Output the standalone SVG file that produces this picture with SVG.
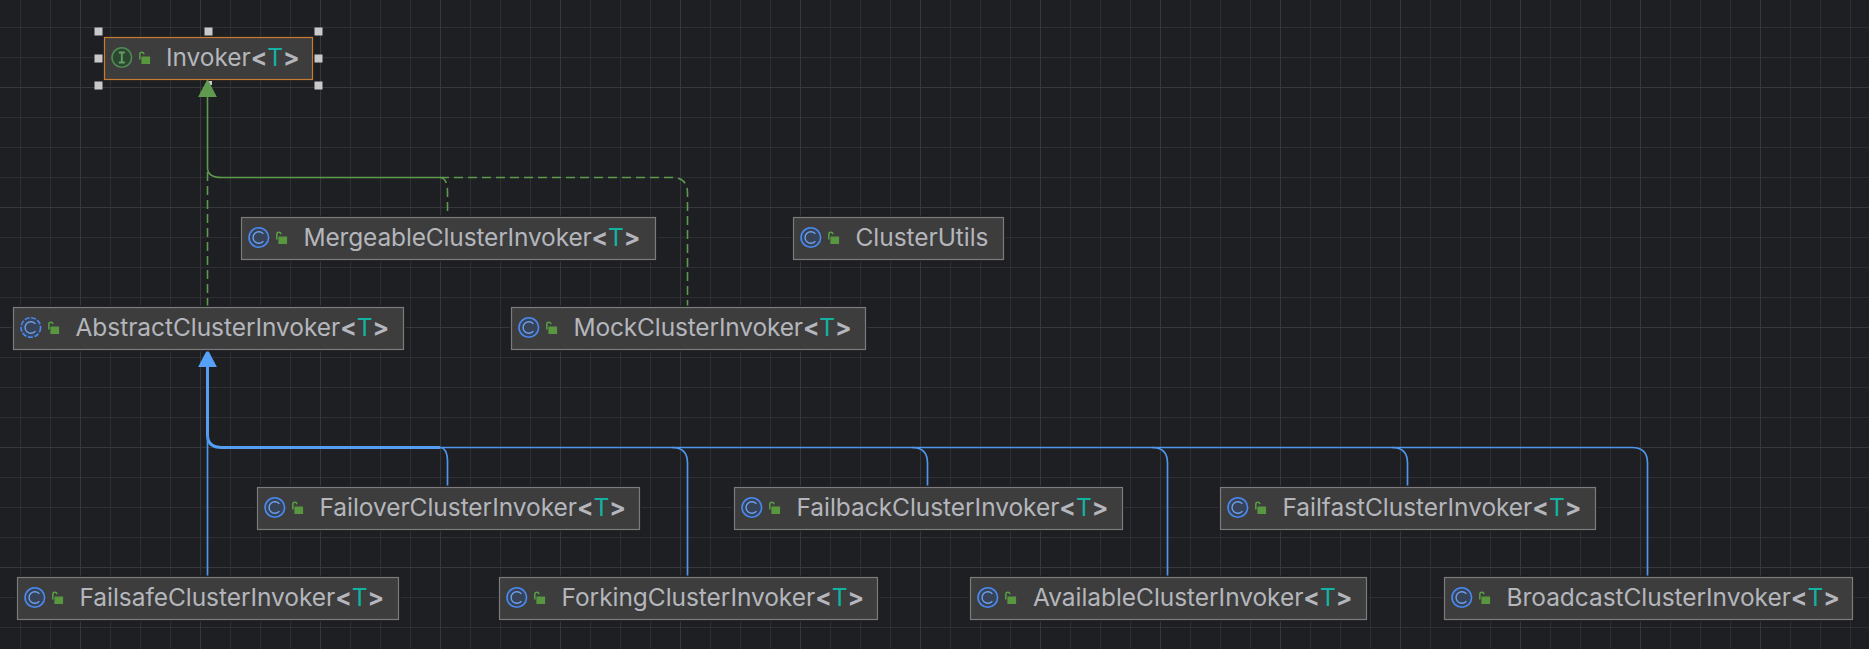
<svg xmlns="http://www.w3.org/2000/svg" width="1869" height="649" viewBox="0 0 1869 649">
<style>
.bg{fill:#1e1f22}
.gm{fill:none;stroke:#2e2f32;stroke-width:1}
.gM{fill:none;stroke:#37383b;stroke-width:1}
.box{fill:#3d3d3d;stroke:#7b7b7b;stroke-width:1.2}
.sel{fill:#3d3d3d;stroke:#c77b30;stroke-width:1.2}
.shadow{fill:#1e1f22}
.h{fill:#c9c9c9}
.lb{font-family:"Inter","Noto Sans",sans-serif;font-size:24.5px;fill:#b4b6bc;letter-spacing:-0.05px}
.m{letter-spacing:-0.16px}
.br{font-weight:700}
.t{fill:#12b3a3}
.ge{fill:none;stroke:#5c9a4c;stroke-width:1.6}
.gd{stroke-dasharray:9 5}
.be{fill:none;stroke:#4f95ea;stroke-width:1.7}
.bt{fill:none;stroke:#549ef5;stroke-width:3}
.ah{fill:#5f9a4f}
.ab{fill:#57a0f7}
</style>
<defs>
<pattern id="gridMinor" width="30" height="30" patternUnits="userSpaceOnUse" x="20" y="27"><path class="gm" d="M0.5 0V30M0 0.5H30"/></pattern>
<pattern id="gridMajor" width="120" height="120" patternUnits="userSpaceOnUse" x="80" y="87"><path class="gM" d="M0.5 0V120M0 0.5H120"/></pattern>
<g id="lock"><path d="M1 2V-3Q1 -5.2 3 -5.2Q5 -5.2 5 -3.2" fill="none" stroke="#58a044" stroke-width="1.5"/><rect x="2.6" y="-1" width="8.7" height="7.5" fill="#58963f"/></g>
<g id="ci"><circle r="9.8" fill="#374358" stroke="#4a8af0" stroke-width="1.6"/><path d="M4.6 -3.6A5.8 5.8 0 1 0 4.6 3.6" fill="none" stroke="#6ea0ea" stroke-width="1.4"/><use href="#lock" x="17" y="0"/></g>
<g id="cia"><circle r="9.8" fill="#374358" stroke="#4a8af0" stroke-width="1.6" stroke-dasharray="5 1.6"/><path d="M4.6 -3.6A5.8 5.8 0 1 0 4.6 3.6" fill="none" stroke="#6ea0ea" stroke-width="1.4"/><use href="#lock" x="17" y="0"/></g>
<g id="ii"><circle r="9.8" fill="#2d4630" stroke="#4f8a55" stroke-width="1.6"/><path d="M-3 -5H3M-3 5H3M0 -5V5" fill="none" stroke="#62a068" stroke-width="1.8"/><use href="#lock" x="17" y="0"/></g>
</defs>
<rect class="bg" width="1869" height="649"/>
<rect width="1869" height="649" fill="url(#gridMinor)"/>
<rect width="1869" height="649" fill="url(#gridMajor)"/>

<g id="selection-handles">
<rect class="h" x="94.5" y="27.5" width="8" height="8"/><rect class="h" x="204.5" y="27.5" width="8" height="8"/><rect class="h" x="314.5" y="27.5" width="8" height="8"/>
<rect class="h" x="94.5" y="54.5" width="8" height="8"/><rect class="h" x="314.5" y="54.5" width="8" height="8"/>
<rect class="h" x="94.5" y="81.5" width="8" height="8"/><rect class="h" x="208" y="81" width="4" height="4"/><rect class="h" x="314.5" y="81.5" width="8" height="8"/>
</g>

<g id="connectors">
<path class="ge" d="M207.5 96V168Q207.5 177.5 222 177.5H440"/>
<path class="ge gd" d="M207.5 307V170"/>
<path class="ge gd" d="M440 177.5Q447.5 178 447.5 192V217"/>
<path class="ge gd" d="M440 177.5H672Q687.5 177.5 687.5 193V307"/>
<path class="ah" d="M207.5 79L216.9 97H198.1Z"/>
<path class="bt" d="M207.5 365V435Q207.5 447.5 222 447.5H440"/>
<path class="be" d="M207.5 577V435"/>
<path class="be" d="M440 447.5Q447.5 448 447.5 462V487"/>
<path class="be" d="M440 447.5H672Q687.5 447.5 687.5 463V577"/>
<path class="be" d="M672 447.5H912Q927.5 447.5 927.5 463V487"/>
<path class="be" d="M912 447.5H1152Q1167.5 447.5 1167.5 463V577"/>
<path class="be" d="M1152 447.5H1392Q1407.5 447.5 1407.5 463V487"/>
<path class="be" d="M1392 447.5H1632Q1647.5 447.5 1647.5 463V577"/>
<path class="ab" d="M207.5 349L216.9 367H198.1Z"/>
</g>

<g id="n-invoker" transform="translate(104.5,37.5)"><rect class="sel" width="208" height="42"/><use href="#ii" x="17.3" y="20"/><text class="lb" x="61.5" y="28.8">Invoker<tspan class="br">&lt;</tspan><tspan class="t">T</tspan><tspan class="br">&gt;</tspan></text></g>
<g id="n-mergeable" transform="translate(241.5,217.5)"><rect class="shadow" x="-2" y="-2" width="418" height="46"/><rect class="box" width="414" height="42"/><use href="#ci" x="17.3" y="20"/><text class="lb m" x="62" y="28.8">MergeableClusterInvoker<tspan class="br">&lt;</tspan><tspan class="t">T</tspan><tspan class="br">&gt;</tspan></text></g>
<g id="n-clusterutils" transform="translate(793.5,217.5)"><rect class="shadow" x="-2" y="-2" width="214" height="46"/><rect class="box" width="210" height="42"/><use href="#ci" x="17.3" y="20"/><text class="lb" x="62" y="28.8">ClusterUtils</text></g>
<g id="n-abstract" transform="translate(13.5,307.5)"><rect class="shadow" x="-2" y="-2" width="394" height="46"/><rect class="box" width="390" height="42"/><use href="#cia" x="17.3" y="20"/><text class="lb" x="62" y="28.8">AbstractClusterInvoker<tspan class="br">&lt;</tspan><tspan class="t">T</tspan><tspan class="br">&gt;</tspan></text></g>
<g id="n-mock" transform="translate(511.5,307.5)"><rect class="shadow" x="-2" y="-2" width="358" height="46"/><rect class="box" width="354" height="42"/><use href="#ci" x="17.3" y="20"/><text class="lb m" x="62" y="28.8">MockClusterInvoker<tspan class="br">&lt;</tspan><tspan class="t">T</tspan><tspan class="br">&gt;</tspan></text></g>
<g id="n-failover" transform="translate(257.5,487.5)"><rect class="shadow" x="-2" y="-2" width="386" height="46"/><rect class="box" width="382" height="42"/><use href="#ci" x="17.3" y="20"/><text class="lb" x="62" y="28.8">FailoverClusterInvoker<tspan class="br">&lt;</tspan><tspan class="t">T</tspan><tspan class="br">&gt;</tspan></text></g>
<g id="n-failback" transform="translate(734.5,487.5)"><rect class="shadow" x="-2" y="-2" width="392" height="46"/><rect class="box" width="388" height="42"/><use href="#ci" x="17.3" y="20"/><text class="lb" x="62" y="28.8">FailbackClusterInvoker<tspan class="br">&lt;</tspan><tspan class="t">T</tspan><tspan class="br">&gt;</tspan></text></g>
<g id="n-failfast" transform="translate(1220.5,487.5)"><rect class="shadow" x="-2" y="-2" width="379" height="46"/><rect class="box" width="375" height="42"/><use href="#ci" x="17.3" y="20"/><text class="lb" x="62" y="28.8">FailfastClusterInvoker<tspan class="br">&lt;</tspan><tspan class="t">T</tspan><tspan class="br">&gt;</tspan></text></g>
<g id="n-failsafe" transform="translate(17.5,577.5)"><rect class="shadow" x="-2" y="-2" width="385" height="46"/><rect class="box" width="381" height="42"/><use href="#ci" x="17.3" y="20"/><text class="lb" x="62" y="28.8">FailsafeClusterInvoker<tspan class="br">&lt;</tspan><tspan class="t">T</tspan><tspan class="br">&gt;</tspan></text></g>
<g id="n-forking" transform="translate(499.5,577.5)"><rect class="shadow" x="-2" y="-2" width="382" height="46"/><rect class="box" width="378" height="42"/><use href="#ci" x="17.3" y="20"/><text class="lb" x="62" y="28.8">ForkingClusterInvoker<tspan class="br">&lt;</tspan><tspan class="t">T</tspan><tspan class="br">&gt;</tspan></text></g>
<g id="n-available" transform="translate(970.5,577.5)"><rect class="shadow" x="-2" y="-2" width="400" height="46"/><rect class="box" width="396" height="42"/><use href="#ci" x="17.3" y="20"/><text class="lb" x="62.5" y="28.8">AvailableClusterInvoker<tspan class="br">&lt;</tspan><tspan class="t">T</tspan><tspan class="br">&gt;</tspan></text></g>
<g id="n-broadcast" transform="translate(1444.5,577.5)"><rect class="shadow" x="-2" y="-2" width="412" height="46"/><rect class="box" width="408" height="42"/><use href="#ci" x="17.3" y="20"/><text class="lb" x="62" y="28.8">BroadcastClusterInvoker<tspan class="br">&lt;</tspan><tspan class="t">T</tspan><tspan class="br">&gt;</tspan></text></g>
</svg>
